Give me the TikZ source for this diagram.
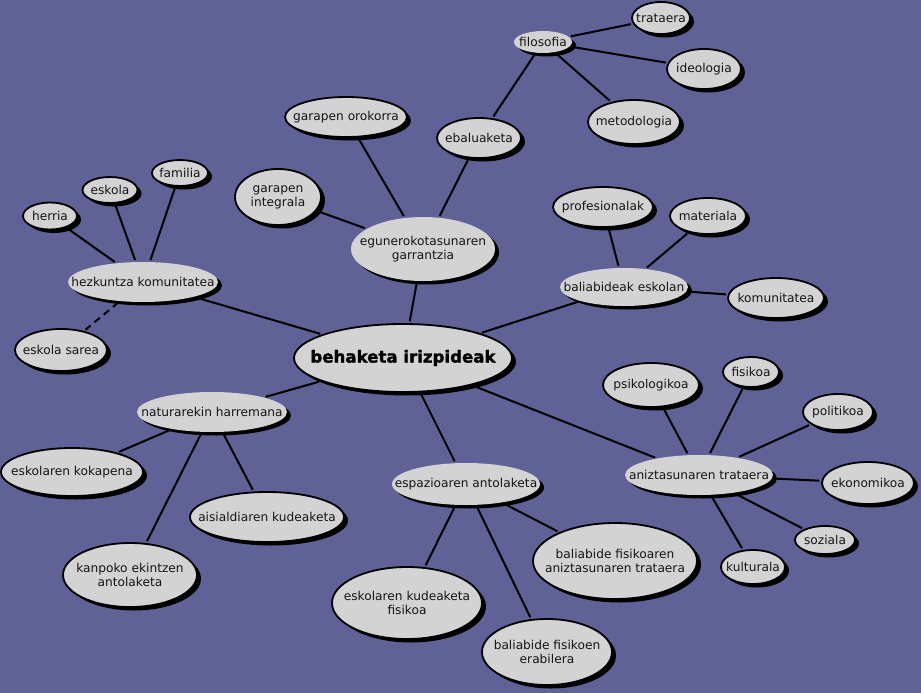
\documentclass[tikz,border=0pt]{standalone}
\usepackage{fontspec}
\setmainfont{DejaVu Sans}
\newfontface\heavyfont{DejaVu Sans Bold}[FakeBold=1.6]
\usetikzlibrary{shapes.geometric,shadows}
\definecolor{bgcol}{RGB}{96,97,150}
\definecolor{nodegrey}{RGB}{211,211,211}
\definecolor{textcol}{RGB}{20,20,20}
\tikzset{
  lbl/.style={inner sep=0pt, align=center, text=textcol, font=\fontsize{12.2}{14}\selectfont},
  mainlbl/.style={inner sep=0pt, align=center, text=black, font=\fontsize{16.6}{20}\heavyfont},
  base/.style={ellipse, fill=nodegrey, inner sep=0pt,
    general shadow={fill=black, shadow xshift=4pt, shadow yshift=-3.5pt}},
  hub/.style n args={3}{base, minimum width=#1pt, minimum height=#2pt, label={[lbl]center:{#3}}},
  leaf/.style n args={3}{base, draw=black, line width=1.8pt, minimum width=#1pt, minimum height=#2pt, label={[lbl]center:{#3}}},
  link/.style={draw=black, line width=2pt, shorten <=2pt, shorten >=2pt},
}
\begin{document}
\begin{tikzpicture}[x=1pt,y=-1pt]
\useasboundingbox (0,0) rectangle (921,693);
\fill[bgcol] (0,0) rectangle (921,693);

% hubs
\node[hub={150}{40}{hezkuntza komunitatea}] (hez) at (143,282) {};
\node[hub={144}{64}{egunerokotasunaren\\garrantzia}] (egu) at (423,249) {};
\node[hub={58}{22}{filosofia}] (filo) at (543,42) {};
\node[hub={128}{38}{baliabideak eskolan}] (bal) at (624,287) {};
\node[hub={148}{40}{aniztasunaren trataera}] (anz) at (699,475) {};
\node[hub={150}{40}{naturarekin harremana}] (nat) at (212,412) {};
\node[hub={148}{42}{espazioaren antolaketa}] (esp) at (466,484) {};

% center
\node[base, draw=black, line width=1.8pt, minimum width=218pt, minimum height=68pt,
  label={[mainlbl]center:behaketa irizpideak}] (main) at (403,358) {};

% leaves
\node[leaf={54}{27}{herria}] (herria) at (50,216) {};
\node[leaf={55}{26}{eskola}] (eskola) at (110,190) {};
\node[leaf={56}{26}{familia}] (familia) at (180,173) {};
\node[leaf={92}{42}{eskola sarea}] (sarea) at (61,350) {};
\node[leaf={86}{56}{garapen\\integrala}] (gint) at (278,197) {};
\node[leaf={122}{40}{garapen orokorra}] (goro) at (346,117) {};
\node[leaf={84}{40}{ebaluaketa}] (ebal) at (479,138) {};
\node[leaf={58}{32}{trataera}] (trat) at (661,18) {};
\node[leaf={74}{40}{ideologia}] (ideo) at (704,69) {};
\node[leaf={92}{44}{metodologia}] (meto) at (634,122) {};
\node[leaf={100}{40}{profesionalak}] (prof) at (603,207) {};
\node[leaf={76}{36}{materiala}] (mat) at (708,216) {};
\node[leaf={96}{40}{komunitatea}] (komu) at (776,298) {};
\node[leaf={96}{44}{psikologikoa}] (psik) at (651,385) {};
\node[leaf={56}{30}{fisikoa}] (fisi) at (751,372) {};
\node[leaf={70}{36}{politikoa}] (poli) at (838,412) {};
\node[leaf={92}{42}{ekonomikoa}] (ekon) at (868,483) {};
\node[leaf={60}{28}{soziala}] (sozi) at (825,540) {};
\node[leaf={64}{34}{kulturala}] (kult) at (753,567) {};
\node[leaf={142}{48}{eskolaren kokapena}] (kokap) at (72,472) {};
\node[leaf={154}{50}{aisialdiaren kudeaketa}] (aisi) at (267,517) {};
\node[leaf={134}{64}{kanpoko ekintzen\\antolaketa}] (kanp) at (130,575) {};
\node[leaf={164}{76}{baliabide fisikoaren\\aniztasunaren trataera}] (bfat) at (615,561) {};
\node[leaf={150}{72}{eskolaren kudeaketa\\fisikoa}] (kudf) at (407,603) {};
\node[leaf={130}{66}{baliabide fisikoen\\erabilera}] (bfer) at (547,652) {};

% connectors
\draw[link] (main) -- (hez);
\draw[link] (main) -- (egu);
\draw[link] (main) -- (bal);
\draw[link] (main) -- (nat);
\draw[link] (main) -- (esp);
\draw[link] (main) -- (anz);

\draw[link] (hez) -- (herria);
\draw[link] (hez) -- (eskola);
\draw[link] (hez) -- (familia);
\draw[link, dashed, dash pattern=on 7pt off 5pt] (hez) -- (sarea);

\draw[link] (egu) -- (gint);
\draw[link] (egu) -- (goro);
\draw[link] (egu) -- (ebal);
\draw[link] (ebal) -- (filo);
\draw[link] (filo) -- (trat);
\draw[link] (filo) -- (ideo);
\draw[link] (filo) -- (meto);

\draw[link] (bal) -- (prof);
\draw[link] (bal) -- (mat);
\draw[link] (bal) -- (komu);

\draw[link] (anz) -- (psik);
\draw[link] (anz) -- (fisi);
\draw[link] (anz) -- (poli);
\draw[link] (anz) -- (ekon);
\draw[link] (anz) -- (sozi);
\draw[link] (anz) -- (kult);

\draw[link] (nat) -- (kokap);
\draw[link] (nat) -- (aisi);
\draw[link] (nat) -- (kanp);

\draw[link] (esp) -- (kudf);
\draw[link] (esp) -- (bfer);
\draw[link] (esp) -- (bfat);
\end{tikzpicture}
\end{document}
